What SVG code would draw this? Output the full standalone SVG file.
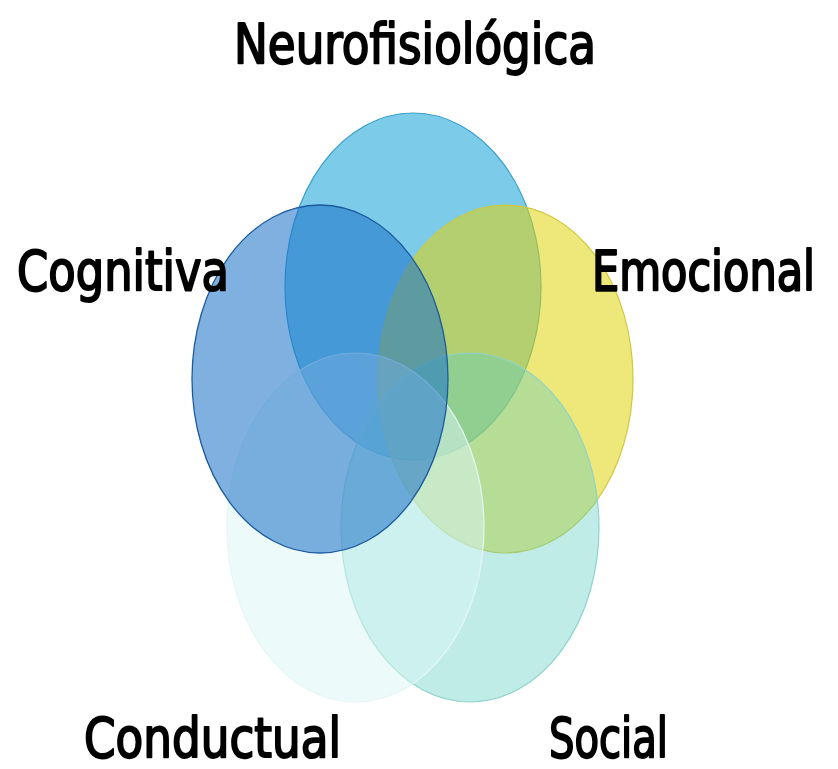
<svg xmlns="http://www.w3.org/2000/svg" width="838" height="769" viewBox="0 0 838 769">
<style>
.lbl{font-family:"DejaVu Sans Condensed","DejaVu Sans",sans-serif;font-weight:normal;font-size:55px;fill:#000;stroke:#000;stroke-width:1.9px;stroke-linejoin:round}
</style>
<rect width="838" height="769" fill="#fff"/>
<g id="neurofisiologica">
<ellipse cx="413" cy="286.5" rx="128" ry="173.5" fill="#25a8da" fill-opacity="0.6" stroke="#3a9fcc" stroke-width="1.2"/>
<text class="lbl" x="234" y="63" textLength="362" lengthAdjust="spacingAndGlyphs">Neurofisiológica</text>
</g>
<g id="emocional">
<ellipse cx="505.5" cy="379" rx="127.5" ry="174" fill="#e0d30d" fill-opacity="0.55" stroke="#d2c83c" stroke-width="1.2"/>
<text class="lbl" x="0" y="0" transform="translate(592,290) scale(1,1.146)" style="font-size:48px;stroke-width:1.8px" textLength="223" lengthAdjust="spacingAndGlyphs">Emocional</text>
</g>
<g id="social">
<ellipse cx="470" cy="527.5" rx="129" ry="174.5" fill="#5ecfc0" fill-opacity="0.4" stroke="#8fd3c9" stroke-width="1.2"/>
<text class="lbl" x="549" y="757" textLength="119" lengthAdjust="spacingAndGlyphs">Social</text>
</g>
<g id="conductual">
<ellipse cx="355.5" cy="527.5" rx="128.5" ry="174.5" fill="#dcf5f6" fill-opacity="0.5" stroke="#e4f6f7" stroke-width="1.2"/>
<text class="lbl" x="84" y="757" textLength="257" lengthAdjust="spacingAndGlyphs">Conductual</text>
</g>
<g id="cognitiva">
<ellipse cx="320" cy="379" rx="128" ry="174" fill="#1a72c8" fill-opacity="0.56" stroke="#1c5a9e" stroke-width="1.3"/>
<text class="lbl" x="17" y="290" textLength="212" lengthAdjust="spacingAndGlyphs">Cognitiva</text>
</g>
<g id="connectors"/>
</svg>
